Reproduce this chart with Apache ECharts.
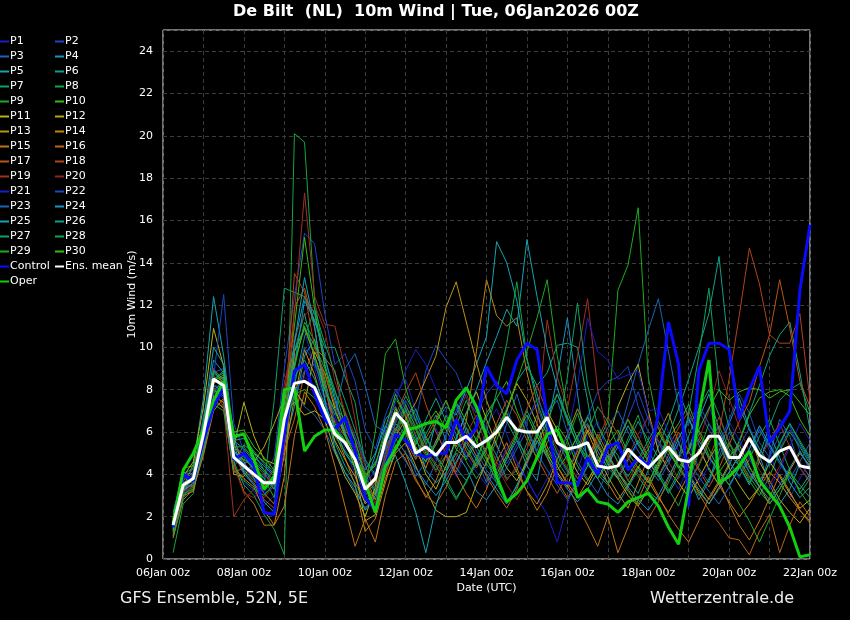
<!DOCTYPE html>
<html><head><meta charset="utf-8">
<script src="https://cdn.jsdelivr.net/npm/echarts@6/dist/echarts.min.js"></script>
<style>html,body{margin:0;padding:0;background:#000}#c{width:850px;height:620px}</style>
</head><body><div id="c"></div>
<script>
// ---- labels ----
const titleText = 'De Bilt  (NL)  10m Wind | Tue, 06Jan2026 00Z';
const xTickLabels = ['06Jan 00z','08Jan 00z','10Jan 00z','12Jan 00z','14Jan 00z','16Jan 00z','18Jan 00z','20Jan 00z','22Jan 00z'];
const yTickLabels = ['0','2','4','6','8','10','12','14','16','18','20','22','24'];
const stepHours = 6; // values are at +6h, +12h, ... +384h

// ---- ensemble members (m/s) ----
const p01 = [1.3,3.8,4.2,6.0,8.0,7.6,4.2,3.6, 3.2,2.5,3.0,6.2,9.5,10.8,9.0,7.5, 6.8,5.2,4.0,2.8,3.5,6.0,7.8,8.5, 7.0,5.5,6.2,4.8,3.9,5.1,4.4,6.3, 7.1,5.9,4.6,3.8,2.9,2.1,0.8,2.6, 4.1,5.8,6.5,5.0,3.9,4.6,5.5,6.8, 5.2,4.1,3.3,4.4,6.1,7.2,5.9,4.5, 3.8,4.9,6.2,5.1,3.6,2.9,3.8,4.6];
const p02 = [1.8,3.3,3.6,5.5,8.8,9.0,5.5,4.8, 4.3,3.9,4.8,9.0,12.4,15.4,14.9,11.6, 9.2,9.7,8.4,6.1,5.2,6.8,8.0,7.2, 6.5,8.9,10.1,9.4,8.8,7.6,6.9,7.8, 8.4,7.1,5.9,6.6,7.3,5.8,4.9,4.1, 5.2,6.7,7.9,8.4,8.6,9.1,7.2,6.0, 5.6,4.9,5.8,6.4,7.0,6.1,5.4,6.6, 7.8,6.9,5.5,4.8,5.9,6.3,5.1,4.2];
const p03 = [1.5,3.6,3.4,5.2,7.8,8.6,5.0,4.0, 3.5,3.2,3.8,7.1,8.0,7.2,6.8,6.1, 5.0,4.1,3.2,2.4,3.0,4.8,6.2,5.5, 4.1,3.5,4.6,5.9,7.3,6.0,4.8,3.6, 4.9,6.4,7.8,6.2,5.1,6.9,7.5,6.0, 4.6,3.8,3.1,4.2,5.7,7.4,9.2,10.8, 12.3,9.8,7.2,5.5,4.3,3.6,4.8,6.0, 5.2,4.1,3.4,4.9,6.6,5.8,4.3,3.7];
const p04 = [1.9,3.2,3.9,6.3,9.4,8.8,5.6,5.2, 4.6,4.1,3.3,5.4,7.2,9.6,10.4,8.3, 6.2,5.0,4.4,3.8,4.6,5.2,6.0,7.1, 5.8,4.2,3.6,4.1,5.0,4.3,3.2,2.8, 3.5,4.8,5.6,4.4,3.7,6.2,8.6,11.4, 7.8,4.5,3.8,3.0,2.6,3.4,4.2,3.6, 4.5,5.9,4.8,3.9,2.8,3.7,5.1,6.4, 7.6,6.2,4.9,3.5,2.6,3.3,4.5,3.9];
const p05 = [1.7,3.4,4.5,7.6,12.4,9.6,5.8,4.2, 3.7,3.3,4.0,7.4,10.2,12.4,11.6,9.2, 7.5,6.0,4.8,3.5,4.9,6.6,7.2,6.0, 5.2,4.6,6.5,7.2,6.8,8.0,9.2,10.5, 15.0,14.0,12.2,9.4,7.8,6.3,5.6,4.9, 5.8,6.4,5.1,4.3,3.8,4.7,5.6,4.9, 4.0,3.1,3.9,5.2,6.6,7.8,6.1,5.0, 4.4,3.5,4.6,5.9,4.8,3.6,2.9,3.4];
const p06 = [1.2,3.0,3.5,5.4,8.2,7.9,4.5,5.4, 5.0,4.2,3.5,6.0,9.8,11.6,9.4,7.6, 5.5,4.4,3.6,2.7,3.2,5.0,6.4,5.9, 4.8,5.9,6.8,5.6,4.3,3.7,4.5,5.3, 6.2,7.0,8.4,9.1,8.2,8.8,10.1,10.2, 10.0,7.5,4.6,5.5,4.9,3.7,3.1,4.2, 5.3,6.5,7.9,6.7,5.4,4.2,3.5,4.4, 5.6,6.9,8.2,9.6,10.6,11.2,8.8,6.1];
const p07 = [1.0,3.1,3.3,5.0,7.4,7.2,4.4,4.9, 4.2,3.5,7.5,12.8,12.6,12.4,11.2,10.0, 10.0,8.6,7.4,4.5,3.0,4.2,5.6,6.3, 7.1,5.8,4.9,3.8,2.9,3.6,4.8,5.7, 4.9,3.8,4.2,5.5,6.8,5.9,4.6,3.9, 4.8,6.0,7.2,6.5,5.3,4.4,3.9,3.2, 2.8,3.6,4.7,5.8,7.1,8.0,6.8,5.5, 4.4,3.6,4.9,6.3,7.5,8.0,8.3,6.9];
const p08 = [0.3,2.6,3.1,5.6,8.9,8.3,4.6,3.5, 3.0,2.1,1.4,0.2,20.1,19.7,12.2,9.4, 8.0,6.3,5.1,3.6,2.8,4.3,5.8,7.0, 6.1,5.0,4.2,4.9,6.3,7.5,6.2,4.8, 3.6,2.7,3.4,4.8,6.0,5.1,4.4,5.6, 6.9,5.3,4.0,3.5,4.4,5.7,6.8,5.2, 4.1,3.3,2.5,3.8,5.0,6.4,5.6,4.6, 3.9,4.7,5.8,6.6,5.4,4.2,3.1,3.8];
const p09 = [1.6,3.7,4.1,6.4,8.6,8.0,5.1,4.7, 4.4,3.8,2.9,5.5,9.0,11.2,10.3,8.5, 6.4,5.6,4.3,3.0,3.6,5.7,7.6,6.8, 5.6,4.9,5.5,6.8,5.9,4.6,3.8,4.5, 5.6,6.9,5.8,4.7,5.5,6.4,7.8,6.5, 5.4,4.8,5.5,6.5,12.7,13.9,16.6,8.6, 6.2,5.1,4.3,3.6,4.4,5.5,6.3,5.2, 4.6,3.7,3.0,3.9,5.1,6.0,5.3,4.5];
const p10 = [2.0,4.3,4.4,6.0,8.4,8.9,5.7,5.9, 5.0,4.6,4.1,7.3,11.0,15.2,11.8,9.1, 7.2,6.6,5.6,4.0,4.4,6.2,7.8,6.7, 5.4,6.3,7.0,6.1,5.2,4.7,5.5,6.9, 7.6,8.4,7.0,5.9,4.7,5.5,6.3,5.6, 4.4,3.7,4.6,5.4,6.1,5.0,4.3,3.6, 4.6,5.7,6.4,7.3,6.0,4.9,4.1,4.8, 5.5,6.8,7.6,7.9,8.0,7.7,6.6,5.8];
const p11 = [1.9,3.9,4.6,7.2,10.9,9.1,5.3,7.4, 5.8,4.7,4.5,6.9,7.4,6.8,7.0,6.6, 5.1,3.9,3.1,2.0,3.4,5.9,7.1,6.2, 5.3,4.0,3.3,4.4,5.7,6.9,7.9,6.6, 5.4,4.3,3.7,4.6,5.8,7.0,6.1,5.0, 4.1,3.5,4.4,5.6,7.2,8.3,9.2,7.0, 5.1,4.2,3.6,2.9,3.8,4.7,5.5,4.3, 3.5,2.8,3.4,4.6,3.9,3.1,2.4,2.8];
const p12 = [1.4,3.4,3.7,5.8,7.7,7.4,4.0,3.9, 4.6,5.3,6.4,7.6,8.0,7.3,9.8,8.8, 7.1,5.9,4.2,1.8,2.1,3.8,5.0,5.5, 4.4,3.3,2.3,2.0,2.0,2.2,3.5,4.6, 5.9,7.0,8.3,7.5,6.4,5.0,4.1,3.4, 4.9,6.1,5.3,4.5,3.8,3.0,2.5,3.3, 4.4,5.6,4.8,3.9,3.2,2.6,3.4,4.1, 4.9,5.8,4.6,3.7,2.8,2.2,1.7,2.4];
const p13 = [1.7,3.5,4.0,6.1,8.3,8.6,5.4,4.6, 3.8,3.1,2.6,4.9,7.6,9.9,8.7,7.0, 5.6,4.7,3.9,2.6,3.1,4.5,5.8,6.6, 7.4,8.5,9.6,11.9,13.1,11.2,9.3,7.5, 6.2,5.0,4.1,3.2,2.6,3.5,4.7,5.9, 7.1,6.0,4.9,3.9,3.1,2.4,3.6,4.8, 5.9,6.9,5.5,4.4,3.5,2.8,3.6,4.5, 5.4,4.4,3.4,2.6,3.3,4.2,5.0,4.4];
const p14 = [1.1,3.0,3.2,5.3,7.9,8.0,4.3,3.8, 3.4,2.3,1.6,3.9,9.8,10.9,9.6,8.2, 6.0,4.8,3.5,1.3,1.9,3.6,5.2,6.0, 5.1,4.3,5.6,6.4,5.3,6.5,9.8,13.2, 11.5,11.0,11.4,8.8,6.9,5.3,4.4,3.6, 2.9,3.7,4.5,3.6,2.8,3.5,4.4,3.7, 2.9,2.2,3.1,4.0,5.2,4.3,3.5,2.7, 2.0,2.6,3.4,4.1,3.6,2.9,2.3,1.8];
const p15 = [1.0,2.8,3.3,4.9,7.0,7.6,4.5,3.2, 2.6,1.6,1.6,2.5,5.8,7.9,7.2,6.1, 4.4,2.5,0.6,1.9,0.8,3.0,4.6,5.0, 3.8,2.9,3.7,4.9,4.0,3.1,2.4,3.3, 4.6,5.5,4.3,3.2,2.3,3.1,4.4,3.5, 2.5,1.6,0.6,2.0,0.3,1.5,2.8,3.9, 3.0,2.1,1.4,0.8,1.8,2.9,3.7,2.6, 1.6,0.9,1.8,2.9,4.0,3.2,2.3,1.7];
const p16 = [1.4,3.3,3.5,5.7,7.6,7.1,4.1,4.3, 3.9,3.5,3.9,5.1,6.6,8.8,10.0,9.5, 8.9,6.7,5.0,3.9,2.8,4.0,5.4,4.7, 3.7,3.0,2.6,3.4,4.5,5.6,4.9,3.9, 3.1,2.4,3.3,4.6,5.8,4.8,3.7,2.9, 3.6,4.7,5.9,5.0,4.1,3.3,2.5,1.9, 2.7,3.8,4.9,4.0,3.1,2.3,1.7,1.0, 0.9,0.2,1.3,2.1,0.3,1.6,2.7,2.0];
const p17 = [1.6,3.6,3.9,6.2,8.1,7.8,4.9,4.1, 3.6,2.8,2.4,5.2,11.9,12.8,10.9,8.0, 6.5,5.8,4.9,3.4,3.9,5.3,6.2,5.6, 4.7,5.7,6.6,7.5,6.2,5.1,4.3,5.2, 6.4,7.5,6.8,5.6,4.8,3.9,3.1,4.0, 5.1,6.3,5.4,4.6,5.5,6.6,5.8,4.7, 3.9,4.9,6.0,5.1,4.2,3.4,4.3,5.4, 6.5,7.4,9.1,10.6,13.2,10.9,8.4,7.2];
const p18 = [1.8,3.7,4.3,6.6,9.0,8.4,5.2,5.0, 4.5,4.0,3.5,6.4,13.5,12.6,10.0,8.7, 7.3,6.1,5.4,3.1,3.7,5.5,6.8,7.9, 8.8,7.3,6.0,5.0,4.1,5.3,6.1,5.0, 4.2,5.1,6.0,7.1,8.2,6.9,5.7,4.6, 3.8,4.6,5.7,6.7,5.9,4.8,4.0,3.4, 4.3,5.3,6.2,7.0,5.8,4.7,6.0,8.5, 11.5,14.7,13.0,10.6,10.2,10.2,11.6,7.5];
const p19 = [1.2,3.1,3.6,5.6,8.0,7.2,2.0,2.8, 3.3,2.9,3.5,7.8,11.6,17.3,12.4,11.1, 11.0,9.0,6.6,3.7,2.6,4.7,6.5,7.2, 6.3,5.2,4.5,3.9,4.8,5.9,6.8,5.7, 4.6,3.7,4.4,5.2,6.4,11.3,8.6,7.1, 9.6,12.3,8.0,5.8,4.5,3.7,4.6,5.4, 6.3,5.2,4.4,3.6,4.5,5.6,6.7,5.5, 4.6,3.8,4.7,5.6,6.4,5.3,4.3,3.6];
const p20 = [1.5,3.2,3.4,5.9,8.7,8.0,4.4,3.1, 2.9,3.4,4.3,8.3,10.5,11.5,12.0,10.8, 8.4,7.0,5.8,4.4,3.3,4.9,6.1,6.9, 5.9,4.9,4.1,5.3,6.6,7.8,6.6,5.4, 4.4,3.5,2.8,3.7,4.9,6.2,5.2,4.3, 3.4,4.4,5.5,4.7,3.9,4.8,5.9,6.7, 5.6,4.6,3.8,4.6,5.6,7.0,8.9,7.6, 6.2,5.1,4.2,3.5,4.4,5.4,4.6,3.8];
const p21 = [1.7,3.9,3.6,5.5,7.9,8.3,5.0,4.5, 4.1,3.7,4.4,6.7,7.9,8.6,8.2,7.4, 6.6,5.4,4.6,3.5,4.2,6.1,7.4,8.9, 9.9,9.2,8.0,6.9,5.8,4.9,4.1,3.5, 4.2,5.3,4.6,3.7,2.9,3.8,4.9,5.8, 8.2,11.4,9.8,9.4,8.5,8.7,8.9,7.0, 7.1,6.0,5.1,4.3,3.6,4.4,5.5,6.5, 5.6,4.7,3.9,3.3,4.2,5.3,6.4,5.6];
const p22 = [1.6,3.5,4.0,6.8,8.6,12.5,6.4,5.1, 4.0,3.1,3.4,6.3,8.4,10.0,9.3,8.1, 7.0,6.5,5.8,4.6,3.9,5.1,6.4,7.5, 6.6,5.5,4.7,5.8,7.0,8.1,7.0,6.2, 5.3,4.5,5.4,6.5,7.6,6.6,5.5,4.7, 5.6,6.8,5.7,4.8,5.6,6.7,7.9,6.6, 5.5,4.6,5.4,6.5,7.3,6.4,5.4,4.5, 5.3,6.2,5.2,4.4,5.2,6.1,5.4,4.6];
const p23 = [1.3,3.4,3.9,6.0,8.2,8.1,4.7,4.3, 3.8,3.4,3.7,6.0,7.7,8.9,9.2,8.0, 6.8,9.0,9.7,8.2,6.3,6.0,5.4,4.6, 3.9,4.6,5.5,6.4,7.3,6.2,5.1,4.2, 3.6,4.3,5.2,6.1,5.0,4.2,3.5,2.8, 3.5,4.4,5.3,6.2,7.0,6.0,5.1,4.4, 3.7,4.5,5.5,4.6,3.9,3.2,2.6,3.4, 4.3,5.2,6.1,5.3,4.5,3.8,4.6,5.5];
const p24 = [2.2,4.1,4.0,6.2,8.9,8.5,5.1,4.5, 4.8,4.4,3.9,6.4,9.1,12.2,11.3,9.6, 7.7,5.9,5.1,4.2,5.0,6.3,5.7,5.0, 4.3,3.6,3.0,3.7,4.6,5.5,4.7,4.0, 3.3,2.6,3.5,4.5,5.6,4.8,4.0,3.3, 2.7,3.3,4.1,4.9,4.1,3.4,2.8,2.3, 3.0,3.9,4.8,4.0,3.3,2.6,3.3,4.1, 4.9,4.1,3.4,2.8,3.5,4.3,5.1,4.3];
const p25 = [1.5,3.2,3.6,6.5,10.0,9.2,5.4,4.1, 3.5,2.7,2.2,5.8,10.2,13.3,11.0,7.5, 5.2,4.1,3.4,2.3,3.0,4.3,4.9,3.6, 2.2,0.3,2.5,4.1,5.7,6.9,8.0,9.3, 10.5,11.8,11.0,15.1,12.4,9.9,8.1,6.6, 5.4,4.5,3.8,4.5,5.3,6.3,5.4,4.6, 3.9,4.7,5.7,6.6,5.6,4.8,4.1,3.5, 4.3,5.2,6.3,5.4,4.6,3.9,3.3,4.0];
const p26 = [1.8,3.6,3.8,5.9,8.5,8.8,5.6,5.7, 5.1,4.5,4.0,6.6,8.6,9.4,8.5,7.3, 6.2,5.0,4.3,3.2,3.9,5.8,7.0,6.3, 5.5,6.6,7.6,6.5,5.6,4.8,5.7,6.7, 7.6,6.5,5.6,4.9,5.8,6.9,7.8,6.7, 5.7,4.9,4.2,3.6,4.5,5.5,6.5,5.6, 4.8,5.8,7.1,8.5,10.0,11.6,14.3,9.7, 7.2,6.1,5.2,4.5,5.4,6.4,5.5,4.7];
const p27 = [1.4,3.3,3.9,6.3,8.0,7.7,4.8,4.7, 4.3,3.8,3.3,5.9,8.2,10.5,11.8,10.2, 8.8,7.5,6.1,4.7,4.0,5.4,6.6,7.7, 6.8,5.7,4.9,4.2,5.1,6.2,5.3,4.5, 3.8,4.7,5.8,7.0,6.0,5.1,5.8,8.6, 12.1,8.2,6.3,5.4,4.6,3.9,4.7,5.6, 6.5,5.6,4.7,6.9,9.6,12.8,8.1,6.2, 5.1,4.3,3.7,4.5,5.5,6.4,5.6,4.8];
const p28 = [1.1,2.9,3.4,5.1,7.3,7.0,4.2,3.7, 3.3,3.0,3.6,7.0,9.9,10.9,10.1,9.0, 7.9,6.9,5.6,3.8,3.3,4.6,6.1,7.3, 6.2,5.1,4.4,3.6,2.8,3.7,4.6,6.0, 7.9,10.2,13.1,9.5,7.4,6.1,5.0,4.2, 3.6,4.4,5.4,4.6,3.9,3.2,2.6,3.4, 4.3,5.2,4.4,3.7,3.0,3.8,4.7,5.5, 4.7,3.9,3.2,2.6,3.3,4.1,3.5,2.9];
const p29 = [1.9,4.0,4.3,6.5,8.8,8.3,5.3,5.3, 4.7,4.2,3.7,6.1,7.8,8.0,7.6,6.8, 5.8,5.1,4.5,3.4,6.0,9.7,10.4,8.1, 6.5,5.4,6.4,7.5,6.3,5.3,4.4,5.2, 6.1,7.1,8.4,9.8,11.4,13.2,9.6,7.0, 5.6,4.6,3.8,4.7,5.6,6.6,5.5,4.6, 3.9,3.2,4.1,5.2,6.1,5.2,4.2,3.5, 2.6,1.8,0.8,1.9,3.0,4.1,3.2,2.5];
const p30 = [1.3,3.5,3.7,5.6,8.4,8.7,6.0,6.1, 5.3,4.8,4.2,6.8,9.2,11.0,9.6,8.0, 7.0,5.8,4.9,3.9,4.5,5.9,6.9,6.1, 5.3,4.6,5.4,6.4,7.4,6.5,5.6,4.7, 4.0,4.9,5.9,6.8,5.8,4.9,4.2,4.9, 5.8,6.7,5.7,4.8,4.1,3.5,4.3,5.2, 6.0,5.1,4.3,5.1,6.1,7.1,8.0,7.5, 7.9,8.1,8.0,7.6,7.9,8.0,7.4,6.8];

const control = [1.5,4.0,3.7,5.6,7.2,8.1,4.7,5.0, 4.4,2.2,2.1,5.9,8.9,9.2,7.8,6.6, 6.1,6.7,5.1,2.9,2.3,4.4,5.9,5.6, 5.0,4.8,5.0,5.0,6.6,5.6,6.2,9.1, 8.2,7.8,9.4,10.2,9.9,6.7,3.6,3.6, 3.5,4.8,4.0,5.3,5.5,4.2,4.8,4.4, 6.9,11.2,9.2,2.5,8.9,10.2,10.2,9.9, 6.6,8.0,9.1,5.5,6.2,7.0,12.7,15.8];
const oper = [1.7,4.2,5.0,6.1,7.5,8.4,5.8,5.9, 4.7,3.3,3.9,8.0,8.1,5.1,5.8,6.1, 6.1,5.5,4.7,3.6,2.2,4.4,5.2,6.1, 6.2,6.4,6.5,6.2,7.5,8.1,7.2,5.8, 3.9,2.7,3.1,3.7,4.8,5.9,6.1,5.0, 2.9,3.3,2.7,2.6,2.2,2.7,2.9,3.1, 2.5,1.5,0.7,3.4,6.8,9.4,3.6,3.9, 4.4,5.1,3.7,3.1,2.5,1.5,0.1,0.2];
const ensMean = [1.6,3.5,3.8,5.9,8.5,8.2,4.8,4.4, 4.0,3.6,3.6,6.6,8.3,8.4,8.1,7.0, 5.9,5.5,4.7,3.3,3.8,5.6,6.9,6.4, 5.0,5.3,4.9,5.5,5.5,5.8,5.3,5.6, 6.0,6.7,6.1,6.0,6.0,6.7,5.5,5.2, 5.3,5.5,4.4,4.3,4.4,5.2,4.7,4.3, 4.8,5.3,4.7,4.6,5.0,5.8,5.8,4.8, 4.8,5.7,4.9,4.6,5.1,5.3,4.4,4.3];

const members = [p01,p02,p03,p04,p05,p06,p07,p08,p09,p10,p11,p12,p13,p14,p15,p16,p17,p18,p19,p20,p21,p22,p23,p24,p25,p26,p27,p28,p29,p30];
const baseColors = ['#1c1cc8','#1c46c4','#1a64b8','#1a92c4','#14a4b0','#10a088','#10a064','#14a444','#20aa20','#34bc10',
                    '#b4b414','#bca414','#bc9414','#c48414','#c47414','#c06414','#bc5414','#b04418','#a03020','#902424'];

function toXY(arr){ return arr.map((v,i)=>[(i+1)*stepHours, v]); }

const series = [];
members.forEach((m,k)=>{
  series.push({name:'P'+(k+1), type:'line', data:toXY(m), showSymbol:false, symbol:'none',
    color: baseColors[k%20], lineStyle:{width:1}, z:2});
});
series.push({name:'Control', type:'line', data:toXY(control), symbol:'none', color:'#0a0aff', lineStyle:{width:3}, z:3});
series.push({name:'Oper', type:'line', data:toXY(oper), symbol:'none', color:'#10d010', lineStyle:{width:3}, z:3});
series.push({name:'Ens. mean', type:'line', data:toXY(ensMean), symbol:'none', color:'#ffffff', lineStyle:{width:3}, z:4});

const leftCol = [], rightCol = [];
for(let k=1;k<=30;k++){ (k%2===1?leftCol:rightCol).push('P'+k); }
leftCol.push('Control','Oper');
rightCol.push('Ens. mean');

const FONT = 'DejaVu Sans';
const legendCommon = {orient:'vertical', top:35, itemWidth:9, itemHeight:2, itemGap:2, icon:'rect',
  selectedMode:false, padding:0,
  textStyle:{color:'#ffffff', fontFamily:FONT, fontSize:11, lineHeight:13, padding:[0,0,0,-4]}};

const chart = echarts.init(document.getElementById('c'), null, {renderer:'canvas'});
chart.setOption({
  backgroundColor:'#000000',
  animation:false,
  title:[
    {text:titleText, left:233, top:4, padding:0, textStyle:{color:'#ffffff', fontFamily:FONT, fontSize:16, fontWeight:'bold'}},
    {text:'GFS Ensemble, 52N, 5E', left:120, top:591, padding:0, textStyle:{color:'#eeeeee', fontFamily:FONT, fontSize:16, fontWeight:'normal'}},
    {text:'Wetterzentrale.de', left:650, top:591, padding:0, textStyle:{color:'#eeeeee', fontFamily:FONT, fontSize:16, fontWeight:'normal'}}
  ],
  legend:[
    Object.assign({}, legendCommon, {left:0, data:leftCol}),
    Object.assign({}, legendCommon, {left:55, data:rightCol})
  ],
  grid:{left:163, right:40, top:30, bottom:61, show:true, borderColor:'#e6e6e6', borderWidth:1, backgroundColor:'transparent'},
  xAxis:{type:'value', min:0, max:384, interval:24,
    name:'Date (UTC)', nameLocation:'middle', nameGap:24, nameMoveOverlap:false,
    nameTextStyle:{color:'#ffffff', fontFamily:FONT, fontSize:11},
    axisLine:{show:false}, axisTick:{show:false},
    axisLabel:{color:'#ffffff', fontFamily:FONT, fontSize:11, margin:9,
      formatter:(v)=> (v%48===0 ? xTickLabels[v/48] : '')},
    splitLine:{show:true, lineStyle:{color:'#3c3c3c', type:[4,3], width:1}}},
  yAxis:{type:'value', min:0, max:25, interval:2,
    name:'10m Wind (m/s)', nameLocation:'middle', nameGap:25, nameMoveOverlap:false,
    nameTextStyle:{color:'#ffffff', fontFamily:FONT, fontSize:11},
    axisLine:{show:false}, axisTick:{show:false},
    axisLabel:{color:'#ffffff', fontFamily:FONT, fontSize:11, margin:10,
      formatter:(v)=> (v<=24 && v%2===0 ? yTickLabels[v/2] : '')},
    splitLine:{show:true, lineStyle:{color:'#3c3c3c', type:[4,3], width:1}}},
  series:series
});
</script></body></html>
